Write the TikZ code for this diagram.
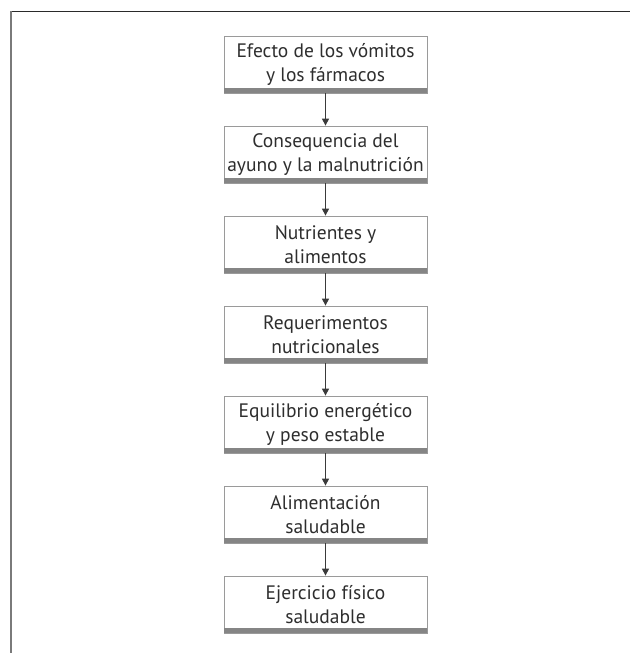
\documentclass[tikz,border=0pt]{standalone}
\usepackage{fontspec}
\setmainfont{PT Sans}
\usetikzlibrary{arrows.meta}
\definecolor{boxgray}{HTML}{9A9A9A}
\definecolor{bargray}{HTML}{858585}
\definecolor{textgray}{HTML}{2E2E2E}
\definecolor{arrowgray}{HTML}{3A3A3A}
\definecolor{framedark}{HTML}{2A2A2A}
\definecolor{framegray}{HTML}{7A7A7A}
\begin{document}
\begin{tikzpicture}[x=1pt,y=-1pt,
  stepbox/.style={draw=boxgray, line width=0.8pt, minimum width=203pt,
    minimum height=57pt, inner sep=0pt, align=center, text=textgray,
    font=\fontsize{19.5}{24.5}\selectfont, fill=white},
  conn/.style={draw=arrowgray, line width=1.2pt,
    -{Triangle[length=7pt,width=7pt]}},
  barfill/.style={fill=bargray}]
\useasboundingbox (0,0) rectangle (630,653);
\draw[framedark, line width=1.3pt] (10,11.5) -- (630,11.5);
\draw[framegray, line width=2pt] (11,11) -- (11,653);
\node[stepbox] (b1) at (325.5,64.5) {Efecto de los vómitos\\y los fármacos};
\node[stepbox] (b2) at (325.5,154.5) {Consequencia del\\ayuno y la malnutrición};
\node[stepbox] (b3) at (325.5,244.5) {Nutrientes y\\alimentos};
\node[stepbox] (b4) at (325.5,334.5) {Requerimentos\\nutricionales};
\node[stepbox] (b5) at (325.5,424.5) {Equilibrio energético\\y peso estable};
\node[stepbox] (b6) at (325.5,514.5) {Alimentación\\saludable};
\node[stepbox] (b7) at (325.5,604.5) {Ejercicio físico\\saludable};
\foreach \n in {b1,b2,b3,b4,b5,b6,b7}
  \fill[barfill] ([yshift=5pt]\n.south west) rectangle (\n.south east);
\foreach \a/\b in {b1/b2,b2/b3,b3/b4,b4/b5,b5/b6,b6/b7}
  \draw[conn] (\a.south) -- (\b.north);
\end{tikzpicture}
\end{document}
